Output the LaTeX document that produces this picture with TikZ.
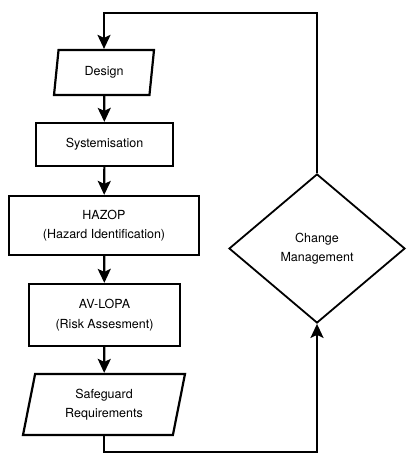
\documentclass[tikz,border=0pt]{standalone}
\usepackage{fontspec}
\setmainfont{TeX Gyre Heros}
\usetikzlibrary{shapes.geometric,arrows.meta}

\tikzset{
  stepbox/.style={draw, line width=2.2pt, rectangle, align=center, inner sep=0pt},
  iobox/.style={draw, line width=2.2pt, trapezium, trapezium left angle=69, trapezium right angle=111,
    trapezium stretches body=true, align=center, inner sep=0pt},
  decision/.style={draw, line width=1.8pt, diamond, align=center, inner sep=0pt},
  flow/.style={line width=2.2pt, -{Stealth[length=14pt,width=13pt,inset=3pt]}}
}

\begin{document}
\begin{tikzpicture}[x=1pt,y=-1pt,font=\fontsize{12.5}{19.5}\selectfont]
  \useasboundingbox (0,0) rectangle (406,454);

  % Nodes (flow column)
  \node[iobox, minimum width=100pt, minimum height=45pt] (design) at (104,72.5) {Design};
  \node[stepbox, minimum width=137pt, minimum height=43pt] (sys) at (104.5,144.5) {Systemisation};
  \node[stepbox, minimum width=190pt, minimum height=59pt] (hazop) at (104,225.5) {HAZOP\\(Hazard Identification)};
  \node[stepbox, minimum width=151pt, minimum height=62pt] (lopa) at (104.5,315) {AV-LOPA\\(Risk Assesment)};
  \node[iobox, minimum width=162pt, minimum height=61pt] (safe) at (104,404.5) {Safeguard\\Requirements};

  % Decision
  \node[decision, minimum width=176pt, minimum height=149pt] (chg) at (317,248.5) {Change\\Management};

  % Loop lines
  \coordinate (top) at (0,13);
  \coordinate (bot) at (0,452);

  % Arrows
  \draw[flow] (design) -- (sys);
  \draw[flow] (sys) -- (hazop);
  \draw[flow] (hazop) -- (lopa);
  \draw[flow] (lopa) -- (safe);
  \draw[flow] (safe.south) -- (safe.south |- bot) -| (chg.south);
  \draw[flow] (chg.north) -- (chg.north |- top) -| (design.north);
\end{tikzpicture}
\end{document}
